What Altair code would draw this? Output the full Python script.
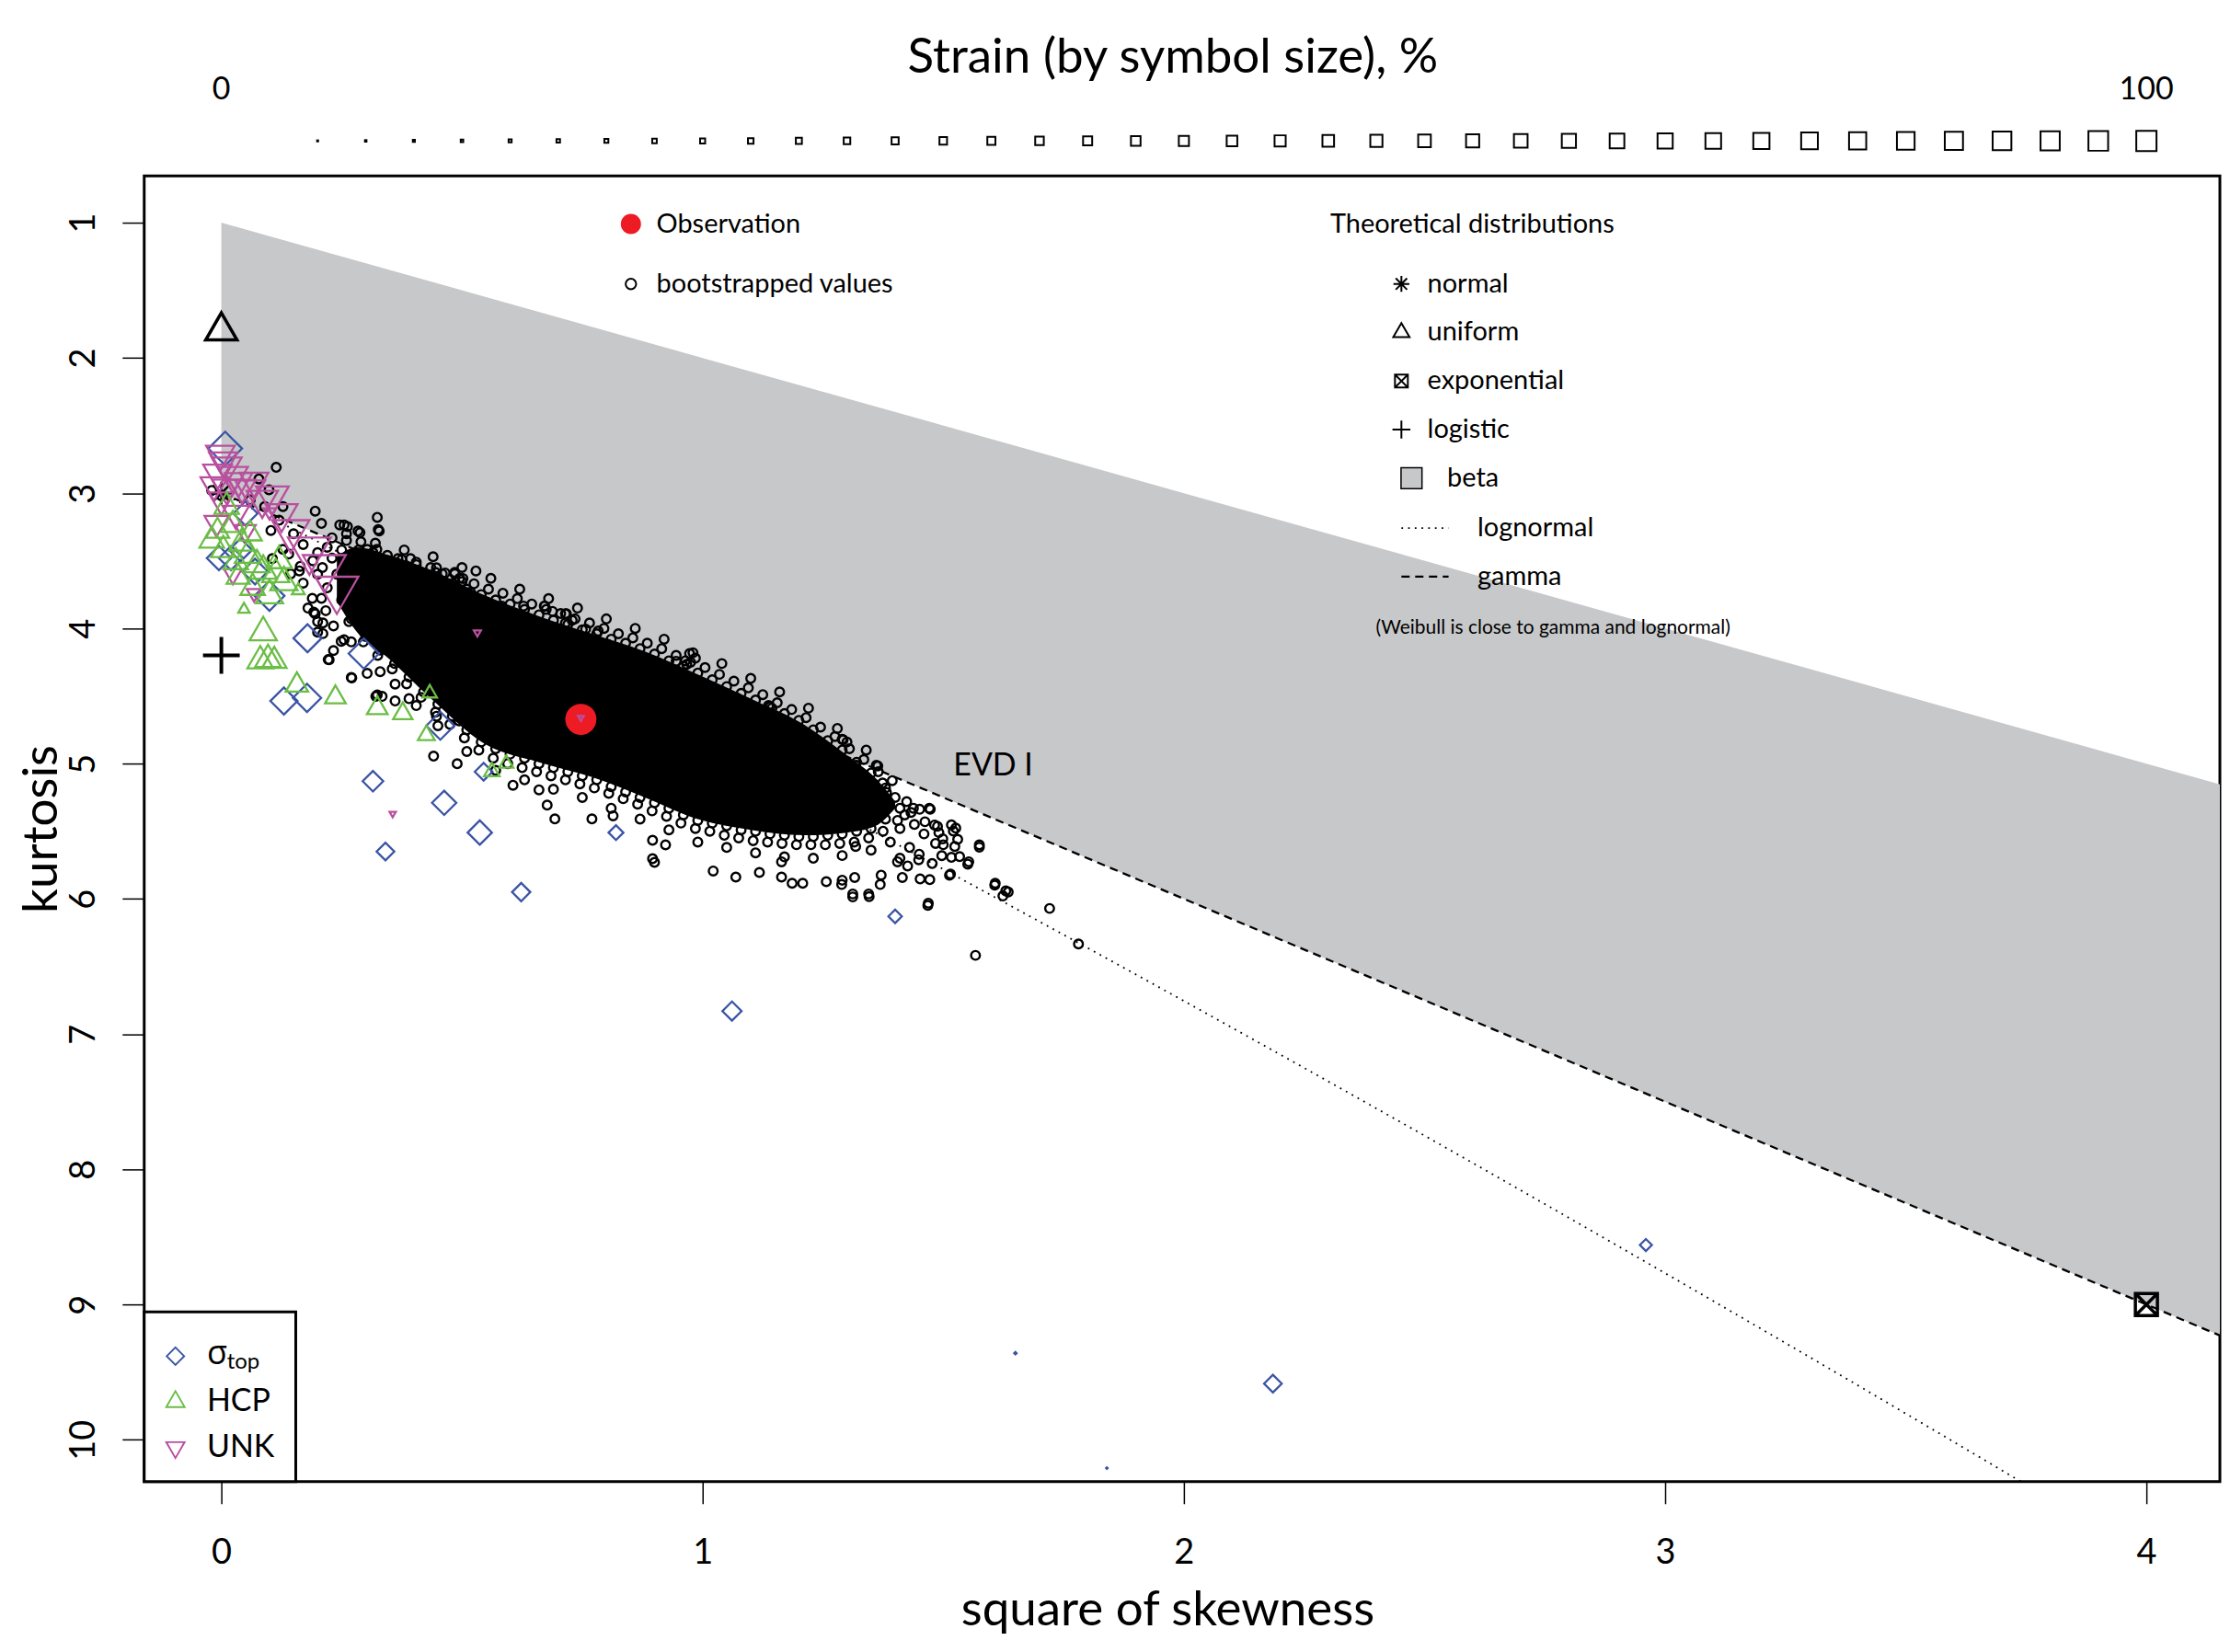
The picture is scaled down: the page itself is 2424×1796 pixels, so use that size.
import altair as alt
import pandas as pd

# ---------------- data ----------------
obs_x = [0.747]
obs_y = [4.673]

# dense core of the bootstrap cloud (band between upper and lower edge)
core_x = [0.24, 0.28, 0.35, 0.43, 0.55, 0.66, 0.77, 0.88, 0.99, 1.10, 1.21, 1.30, 1.36, 1.40]
core_upper = [3.47, 3.40, 3.46, 3.56, 3.76, 3.91, 4.04, 4.17, 4.34, 4.52, 4.71, 4.94, 5.11, 5.28]
core_lower = [3.80, 4.02, 4.23, 4.50, 4.86, 4.99, 5.10, 5.25, 5.41, 5.49, 5.53, 5.51, 5.46, 5.33]

# individual bootstrapped values (square of skewness, kurtosis)
boot_tail = [(1.292, 4.824), (1.364, 5.018), (1.394, 5.126), (1.355, 5.149), (1.374, 5.144), (1.382, 5.213),
             (1.424, 5.281), (1.451, 5.338), (1.473, 5.338), (1.433, 5.361), (1.462, 5.43), (1.488, 5.464),
             (1.517, 5.453), (1.521, 5.499), (1.491, 5.51), (1.499, 5.556), (1.524, 5.613), (1.484, 5.59),
             (1.575, 5.618), (1.449, 5.711), (1.477, 5.739), (1.497, 5.681), (1.517, 5.693), (1.534, 5.688),
             (1.551, 5.743), (1.513, 5.825), (1.452, 5.853), (1.472, 5.858), (1.415, 5.842), (1.426, 5.757),
             (1.371, 5.825), (1.369, 5.894), (1.289, 5.894), (1.316, 5.842), (1.312, 5.986), (1.346, 5.984),
             (1.468, 6.048), (1.567, 6.418), (1.607, 5.899), (1.624, 5.979), (1.635, 5.949), (1.721, 6.071),
             (1.781, 6.334), (1.40, 5.25), (1.42, 5.38), (1.44, 5.45), (1.46, 5.52), (1.39, 5.58), (1.43, 5.62),
             (1.45, 5.67), (1.50, 5.60), (1.53, 5.56), (1.41, 5.70)]
boot_above = [(0.324, 3.179), (0.326, 3.269), (0.529, 3.575), (0.447, 3.552), (0.485, 3.586), (0.502, 3.631),
              (0.518, 3.733), (0.671, 3.835), (0.715, 3.892), (0.715, 3.96), (0.688, 3.874), (0.757, 4.005),
              (0.803, 4.118), (0.907, 4.254), (0.945, 4.243), (0.973, 4.186), (0.967, 4.266), (1.071, 4.514),
              (1.137, 4.571), (1.164, 4.684), (1.290, 4.82), (1.361, 5.013), (1.208, 4.775), (1.318, 5.013),
              (0.729, 3.94), (0.783, 4.02), (0.964, 4.24), (0.985, 4.22), (1.144, 4.59), (1.30, 4.84),
              (0.445, 3.586), (0.459, 3.597), (0.485, 3.597), (0.500, 3.654), (0.583, 3.835), (0.628, 3.835),
              (0.672, 3.835), (0.717, 3.892), (0.393, 3.484), (0.405, 3.529), (0.367, 3.484), (0.303, 3.416),
              (0.323, 3.416)]
boot_below = [(0.222, 4.231), (0.271, 4.367), (0.324, 4.492), (0.441, 4.945), (0.490, 5.001), (0.606, 5.16),
              (0.660, 5.194), (0.677, 5.307), (0.693, 5.409), (0.770, 5.409), (0.814, 5.386), (0.896, 5.567),
              (0.923, 5.601), (0.896, 5.703), (1.022, 5.794), (1.069, 5.839), (1.118, 5.805), (1.164, 5.839),
              (1.208, 5.885), (1.257, 5.873), (1.290, 5.862), (1.312, 5.964), (1.345, 5.964), (1.469, 6.032),
              (1.575, 5.601), (1.526, 5.477), (1.553, 5.726), (1.515, 5.817), (1.608, 5.885), (1.630, 5.941),
              (1.438, 5.33), (1.471, 5.33), (1.351, 5.16), (1.482, 5.454), (1.318, 5.613), (1.405, 5.726),
              (1.164, 5.726), (1.186, 5.885), (0.900, 5.73), (0.270, 4.363), (0.303, 4.333), (0.321, 4.503),
              (0.334, 4.503), (0.361, 4.412), (0.361, 4.537), (0.405, 4.571), (0.447, 4.65), (0.494, 4.684)]
boot_left = [(0.195, 3.133), (0.255, 3.235), (0.288, 3.292), (0.162, 3.575), (0.195, 3.892), (0.217, 3.869),
             (0.255, 4.084), (0.200, 4.028), (0.114, 2.809), (0.078, 2.895), (0.099, 2.975), (0.128, 3.099),
             (0.208, 3.224), (0.246, 3.235), (0.262, 3.247), (0.284, 3.28), (0.328, 3.28), (0.103, 3.276),
             (0.128, 3.416), (0.144, 3.597), (0.164, 3.541), (0.106, 3.484), (0.170, 3.665), (0.189, 3.778),
             (0.208, 3.778), (0.192, 3.88), (0.211, 3.96), (0.233, 3.982), (0.211, 4.039), (0.249, 4.096),
             (0.224, 4.232), (0.233, 4.164), (-0.02, 2.98), (0.0, 3.02), (0.06, 3.05), (0.09, 3.10),
             (0.12, 3.2), (0.15, 3.3), (0.17, 3.38), (0.14, 3.45), (0.19, 3.5), (0.2, 3.6), (0.22, 3.7),
             (0.18, 3.85), (0.2, 3.95), (0.22, 3.40), (0.25, 3.42), (0.23, 3.48), (0.26, 3.30), (0.29, 3.36),
             (0.21, 3.55), (0.24, 3.60), (0.27, 3.62), (0.23, 3.33), (0.20, 3.44)]
boot_top_a = [(0.27, 3.48), (0.30, 3.49), (0.33, 3.52), (0.36, 3.54), (0.39, 3.56), (0.42, 3.59), (0.45, 3.63),
              (0.48, 3.67), (0.51, 3.71), (0.54, 3.75), (0.57, 3.79), (0.60, 3.82), (0.63, 3.86), (0.66, 3.90),
              (0.69, 3.94), (0.72, 3.97), (0.75, 4.01), (0.78, 4.04), (0.81, 4.08), (0.84, 4.11), (0.87, 4.15),
              (0.90, 4.19), (0.93, 4.24), (0.96, 4.28), (0.99, 4.33), (1.02, 4.38), (1.05, 4.43), (1.08, 4.48),
              (1.11, 4.53), (1.14, 4.58), (1.17, 4.63), (1.20, 4.68), (1.23, 4.75), (1.26, 4.83), (1.29, 4.90),
              (1.32, 4.99), (1.35, 5.07), (1.38, 5.18)]
boot_top_b = [(0.285, 3.42), (0.315, 3.44), (0.345, 3.46), (0.375, 3.49), (0.405, 3.51), (0.435, 3.55),
              (0.465, 3.59), (0.495, 3.63), (0.525, 3.67), (0.555, 3.71), (0.585, 3.74), (0.615, 3.78),
              (0.645, 3.82), (0.675, 3.86), (0.705, 3.89), (0.735, 3.93), (0.765, 3.96), (0.795, 4.00),
              (0.825, 4.04), (0.855, 4.07), (0.885, 4.11), (0.915, 4.15), (0.945, 4.20), (0.975, 4.25),
              (1.005, 4.29), (1.035, 4.34), (1.065, 4.39), (1.095, 4.44), (1.125, 4.49), (1.155, 4.55),
              (1.185, 4.60), (1.215, 4.66), (1.245, 4.73), (1.275, 4.80), (1.305, 4.89), (1.335, 4.97),
              (1.365, 5.06)]
boot_top_c = [(0.26, 3.35), (0.32, 3.37), (0.38, 3.42), (0.44, 3.47), (0.50, 3.55), (0.56, 3.63), (0.62, 3.71),
              (0.68, 3.78), (0.74, 3.85), (0.80, 3.93), (0.86, 4.00), (0.92, 4.08), (0.98, 4.18), (1.04, 4.26),
              (1.10, 4.37), (1.16, 4.47), (1.22, 4.59), (1.28, 4.74), (1.34, 4.90)]
boot_bot_a = [(0.25, 3.79), (0.27, 3.93), (0.30, 4.06), (0.33, 4.16), (0.36, 4.26), (0.39, 4.36), (0.42, 4.47),
              (0.45, 4.56), (0.48, 4.65), (0.51, 4.75), (0.54, 4.84), (0.57, 4.89), (0.60, 4.93), (0.63, 4.96),
              (0.66, 5.00), (0.69, 5.03), (0.72, 5.06), (0.75, 5.09), (0.78, 5.12), (0.81, 5.17), (0.84, 5.21),
              (0.87, 5.25), (0.90, 5.29), (0.93, 5.33), (0.96, 5.38), (0.99, 5.42), (1.02, 5.44), (1.05, 5.46),
              (1.08, 5.49), (1.11, 5.50), (1.14, 5.52), (1.17, 5.53), (1.20, 5.54), (1.23, 5.54), (1.26, 5.53),
              (1.29, 5.52), (1.32, 5.50), (1.35, 5.48), (1.38, 5.41), (1.41, 5.33)]
boot_bot_b = [(0.265, 3.95), (0.295, 4.10), (0.325, 4.20), (0.355, 4.30), (0.385, 4.41), (0.415, 4.51),
              (0.445, 4.62), (0.475, 4.71), (0.505, 4.81), (0.535, 4.90), (0.565, 4.96), (0.595, 5.00),
              (0.625, 5.03), (0.655, 5.06), (0.685, 5.09), (0.715, 5.12), (0.745, 5.15), (0.775, 5.18),
              (0.805, 5.22), (0.835, 5.26), (0.865, 5.30), (0.895, 5.35), (0.925, 5.39), (0.955, 5.44),
              (0.985, 5.48), (1.015, 5.50), (1.045, 5.53), (1.075, 5.55), (1.105, 5.57), (1.135, 5.58),
              (1.165, 5.59), (1.195, 5.60), (1.225, 5.60), (1.255, 5.60), (1.285, 5.59), (1.315, 5.58),
              (1.345, 5.55), (1.375, 5.50), (1.405, 5.42)]
boot_bot_c = [(0.27, 4.10), (0.33, 4.32), (0.39, 4.52), (0.45, 4.72), (0.51, 4.91), (0.57, 5.05), (0.63, 5.12),
              (0.69, 5.19), (0.75, 5.25), (0.81, 5.33), (0.87, 5.41), (0.93, 5.49), (0.99, 5.58), (1.05, 5.62),
              (1.11, 5.66), (1.17, 5.69), (1.23, 5.70), (1.29, 5.68), (1.35, 5.64), (1.41, 5.48)]

# groups: (square of skewness, kurtosis, strain %)
sigma_top = [(0.008, 2.67, 118), (0.05, 3.15, 85), (0.07, 3.58, 90), (0.02, 3.48, 85), (0.04, 3.42, 80),
             (-0.005, 3.48, 85), (0.10, 3.76, 105), (0.179, 4.073, 98), (0.296, 4.186, 106), (0.130, 4.537, 95),
             (0.178, 4.514, 99), (0.455, 4.72, 98), (0.315, 5.13, 72), (0.341, 5.65, 62), (0.463, 5.29, 85),
             (0.537, 5.51, 85), (0.623, 5.95, 64), (0.545, 5.06, 62), (0.82, 5.51, 52), (1.40, 6.13, 47),
             (1.061, 6.83, 67), (2.96, 8.56, 42), (1.65, 9.36, 8), (2.185, 9.585, 62), (1.84, 10.21, 5)]
hcp = [(0.011, 3.10, 90), (-0.008, 3.28, 85), (-0.02, 3.35, 90), (0.024, 3.235, 90), (0.043, 3.37, 95),
       (0.004, 3.42, 90), (0.055, 3.46, 95), (0.03, 3.51, 90), (0.074, 3.53, 95), (0.087, 3.575, 100),
       (0.113, 3.60, 100), (0.10, 3.756, 100), (0.16, 3.72, 47), (0.047, 3.86, 42), (0.087, 4.03, 100),
       (0.081, 4.24, 95), (0.097, 4.23, 95), (0.11, 4.24, 90), (0.157, 4.42, 82), (0.237, 4.51, 76),
       (0.324, 4.59, 76), (0.377, 4.63, 71), (0.433, 4.48, 53), (0.426, 4.79, 62), (0.562, 5.06, 57),
       (0.592, 5.00, 52), (0.06, 3.30, 85), (0.035, 3.62, 85), (0.12, 3.50, 95), (0.065, 3.70, 90),
       (0.13, 3.66, 100)]
unk = [(-0.002, 2.71, 105), (0.004, 2.76, 105), (0.011, 2.80, 110), (-0.008, 2.85, 105), (0.024, 2.87, 110),
       (0.036, 2.91, 100), (-0.015, 2.94, 100), (0.011, 2.96, 105), (0.043, 2.96, 100), (0.068, 2.91, 105),
       (0.106, 3.02, 120), (0.10, 3.14, 48), (0.144, 3.28, 138), (0.183, 3.42, 158), (0.214, 3.55, 158),
       (0.240, 3.71, 158), (0.068, 3.74, 54), (0.024, 3.60, 64), (0.532, 4.03, 26), (0.356, 5.37, 23),
       (0.747, 4.66, 21), (0.0, 3.05, 95), (0.03, 3.15, 98), (-0.01, 3.22, 88), (0.05, 3.28, 76),
       (0.085, 3.05, 115), (0.125, 3.15, 118), (0.06, 2.97, 110)]

# theoretical distributions
theo_uniform = [(0.0, 1.8)]
theo_normal = [(0.0, 3.0)]
theo_logistic = [(0.0, 4.2)]
theo_exponential = [(4.0, 9.0)]
beta_x = [0.0, 4.16]
beta_top = [1.0, 5.16]
beta_bottom = [3.0, 9.24]
gamma_x = [0.0, 4.16]
gamma_y = [3.0, 9.24]
lognormal_x = [0.0, 0.0906, 0.1824, 0.4651, 0.961, 1.488, 2.048, 2.6406, 3.267, 3.793]
lognormal_y = [3.0, 3.1615, 3.326, 3.838, 4.756, 5.758, 6.850, 8.035, 9.32, 10.423]

# symbol-size scale strip
strain_levels = [5.0, 7.5, 10.0, 12.5, 15.0, 17.5, 20.0, 22.5, 25.0, 27.5, 30.0, 32.5, 35.0, 37.5, 40.0,
                 42.5, 45.0, 47.5, 50.0, 52.5, 55.0, 57.5, 60.0, 62.5, 65.0, 67.5, 70.0, 72.5, 75.0, 77.5,
                 80.0, 82.5, 85.0, 87.5, 90.0, 92.5, 95.0, 97.5, 100.0]

# ---------------- styling ----------------
FONT = "Lato"
BLUE = "#3a54a4"
GREEN = "#6abd45"
MAGENTA = "#b9509f"
RED = "#ed1c24"
GREY = "#c7c8ca"

TRI_UP = "M0,-1L0.866,0.5L-0.866,0.5Z"
TRI_DN = "M0,1L0.866,-0.5L-0.866,-0.5Z"
DIAM = "M-0.909,0L0,-0.909L0.909,0L0,0.909Z"
SQ = "M-0.643,-0.643L0.643,-0.643L0.643,0.643L-0.643,0.643Z"
PLUS = "M-1,0L1,0M0,-1L0,1"
XBOX = "M-1,-1L1,-1L1,1L-1,1ZM-1,-1L1,1M1,-1L-1,1"
AST = "M-1,0L1,0M0,-1L0,1M-0.71,-0.71L0.71,0.71M-0.71,0.71L0.71,-0.71"

W, H = 2260, 1422
XS = alt.Scale(domain=[-0.1603, 4.1527], nice=False, zero=False)
YS = alt.Scale(domain=[0.6535, 10.31], nice=False, zero=False, reverse=True)
SS = alt.Scale(type="pow", exponent=2, domain=[0, 100], range=[0, 1171])

XAX = alt.Axis(values=[0, 1, 2, 3, 4], title="square of skewness", format="d", grid=False, domain=False,
               tickSize=24, tickWidth=1.5, tickColor="black", labelFontSize=38, labelPadding=35,
               labelFlush=False, labelOverlap=False, titleFontSize=53, titleFontWeight="normal",
               titleX=1114, titleY=156, titleBaseline="alphabetic", titleAlign="center")
YAX = alt.Axis(values=list(range(1, 11)), title="kurtosis", format="d", grid=False, domain=False,
               tickSize=24, tickWidth=1.5, tickColor="black", labelFontSize=38, labelAngle=270,
               labelAlign="center", labelBaseline="bottom", labelPadding=22, labelFlush=False,
               labelOverlap=False, titleFontSize=53, titleFontWeight="normal", titleAngle=270,
               titleX=-95, titleY=H / 2, titleBaseline="alphabetic", titleAlign="center")


def X(f="x"):
    return alt.X(f"{f}:Q", scale=XS, axis=XAX)


def Y(f="y"):
    return alt.Y(f"{f}:Q", scale=YS, axis=YAX)


def pts(pairs):
    return pd.DataFrame({"x": [p[0] for p in pairs], "y": [p[1] for p in pairs]})


def grp(rows):
    return pd.DataFrame({"x": [r[0] for r in rows], "y": [r[1] for r in rows], "s": [r[2] for r in rows]})


def symbols(df, shape, size, color, sw):
    enc = dict(x=X(), y=Y())
    if isinstance(size, str):
        enc["size"] = alt.Size(f"{size}:Q", scale=SS, legend=None)
    else:
        enc["size"] = alt.value(size)
    return alt.Chart(df).mark_point(shape=shape, filled=False, stroke=color, strokeWidth=sw,
                                    opacity=1).encode(**enc)


def text(rows, fs, align="left", baseline="middle", font=FONT):
    df = pd.DataFrame({"x": [r[0] for r in rows], "y": [r[1] for r in rows], "t": [r[2] for r in rows]})
    return alt.Chart(df).mark_text(font=font, fontSize=fs, align=align, baseline=baseline,
                                   color="black").encode(x=X(), y=Y(), text="t:N")


layers = []

# beta region
beta_df = pd.DataFrame({"x": beta_x, "y": beta_top, "y2": beta_bottom})
layers.append(alt.Chart(beta_df).mark_area(color=GREY, opacity=1, clip=True).encode(
    x=X(), y=Y(), y2="y2:Q"))

# gamma (dashed) and lognormal (dotted)
layers.append(alt.Chart(pd.DataFrame({"x": gamma_x, "y": gamma_y})).mark_line(
    color="black", strokeWidth=2.3, strokeDash=[9, 6], clip=True).encode(x=X(), y=Y()))
layers.append(alt.Chart(pd.DataFrame({"x": lognormal_x, "y": lognormal_y})).mark_line(
    color="black", strokeWidth=1.8, strokeDash=[1.8, 5.5], interpolate="monotone", clip=True).encode(x=X(), y=Y()))

# theoretical points
layers.append(symbols(pts(theo_normal), AST, 625, "black", 2.5))
layers.append(symbols(pts(theo_uniform), TRI_UP, 1544, "black", 3.5))
layers.append(symbols(pts(theo_logistic), PLUS, 1600, "black", 4))
layers.append(symbols(pts(theo_exponential), XBOX, 576, "black", 3.5))

# bootstrap cloud
core_df = pd.DataFrame({"x": core_x, "y": core_upper, "y2": core_lower})
layers.append(alt.Chart(core_df).mark_area(color="black", opacity=1, interpolate="monotone").encode(
    x=X(), y=Y(), y2="y2:Q"))
boot_all = (boot_tail + boot_above + boot_below + boot_left + boot_top_a + boot_top_b + boot_top_c
            + boot_bot_a + boot_bot_b + boot_bot_c)
layers.append(symbols(pts(boot_all), "circle", 92, "black", 2.4))

# observation
layers.append(alt.Chart(pts(list(zip(obs_x, obs_y)))).mark_point(
    shape="circle", filled=True, color=RED, opacity=1, size=1150).encode(x=X(), y=Y()))

# groups
layers.append(symbols(grp(sigma_top), DIAM, "s", BLUE, 2.3))
layers.append(symbols(grp(unk), TRI_DN, "s", MAGENTA, 2.3))
layers.append(symbols(grp(hcp), TRI_UP, "s", GREEN, 2.3))

# EVD I label
layers.append(text([(1.521, 5.022, "EVD I")], 34))

# ---- top-left legend ----
layers.append(alt.Chart(pts([(0.851, 1.01)])).mark_point(
    shape="circle", filled=True, color=RED, opacity=1, size=484).encode(x=X(), y=Y()))
layers.append(symbols(pts([(0.851, 1.453)]), "circle", 130, "black", 2))
layers.append(text([(0.904, 1.01, "Observation"), (0.904, 1.453, "bootstrapped values")], 29))

# ---- theoretical distributions legend ----
layers.append(text([(2.304, 1.01, "Theoretical distributions")], 29))
layers.append(symbols(pts([(2.452, 1.453)]), AST, 300, "black", 2))
layers.append(symbols(pts([(2.452, 1.812)]), TRI_UP, 420, "black", 2))
layers.append(symbols(pts([(2.452, 2.171)]), XBOX, 196, "black", 2))
layers.append(symbols(pts([(2.452, 2.530)]), PLUS, 380, "black", 2))
layers.append(alt.Chart(pts([(2.473, 2.889)])).mark_point(
    shape="square", filled=True, fill=GREY, stroke="black", strokeWidth=1.5, opacity=1, size=520).encode(x=X(), y=Y()))
layers.append(text([(2.506, 1.453, "normal"), (2.506, 1.812, "uniform"), (2.506, 2.171, "exponential"),
                    (2.506, 2.530, "logistic"), (2.547, 2.889, "beta"), (2.610, 3.258, "lognormal"),
                    (2.610, 3.617, "gamma")], 29))
layers.append(alt.Chart(pd.DataFrame({"x": [2.452, 2.550], "y": [3.258, 3.258]})).mark_line(
    color="black", strokeWidth=1.8, strokeDash=[1.8, 5.5]).encode(x=X(), y=Y()))
layers.append(alt.Chart(pd.DataFrame({"x": [2.452, 2.550], "y": [3.617, 3.617]})).mark_line(
    color="black", strokeWidth=2.3, strokeDash=[9, 6]).encode(x=X(), y=Y()))
layers.append(text([(2.399, 3.997, "(Weibull is close to gamma and lognormal)")], 21))

# ---- bottom-left group legend ----
box_df = pd.DataFrame({"x": [-0.1603], "x2": [0.1546], "y": [9.054], "y2": [10.31]})
layers.append(alt.Chart(box_df).mark_rect(fill="white", stroke="black", strokeWidth=3).encode(
    x=X(), x2="x2:Q", y=Y(), y2="y2:Q"))
layers.append(symbols(pts([(-0.0954, 9.382)]), DIAM, 437, BLUE, 1.9))
layers.append(symbols(pts([(-0.0954, 9.719)]), TRI_UP, 534, GREEN, 1.9))
layers.append(symbols(pts([(-0.0954, 10.057)]), TRI_DN, 534, MAGENTA, 1.9))
layers.append(text([(-0.030, 9.444, "σ")], 36, baseline="alphabetic", font="Open Sans"))
layers.append(text([(0.0115, 9.476, "top")], 24, baseline="alphabetic"))
layers.append(text([(-0.030, 9.719, "HCP"), (-0.030, 10.057, "UNK")], 34))

# ---- strain scale strip above the plot ----
strip_df = pd.DataFrame({"s": strain_levels, "y": [0.395] * len(strain_levels)})
layers.append(alt.Chart(strip_df).transform_calculate(x="datum.s / 25").mark_point(
    shape=SQ, filled=False, stroke="black", strokeWidth=2, opacity=1).encode(
    x=X(), y=Y(), size=alt.Size("s:Q", scale=SS, legend=None)))
layers.append(text([(0.0, 0.017, "0"), (4.0, 0.017, "100")], 34, align="center"))
layers.append(text([(1.977, -0.216, "Strain (by symbol size), %")], 53, align="center"))

chart = alt.layer(*layers).properties(
    width=W, height=H,
    padding={"left": 149, "top": 182, "right": 3, "bottom": 168},
    autosize=alt.AutoSizeParams(type="none"),
).configure_view(stroke="black", strokeWidth=3).configure_axis(
    labelFont=FONT, titleFont=FONT, labelColor="black", titleColor="black")

chart.save("out.html", embed_options={"renderer": "svg", "actions": False})
